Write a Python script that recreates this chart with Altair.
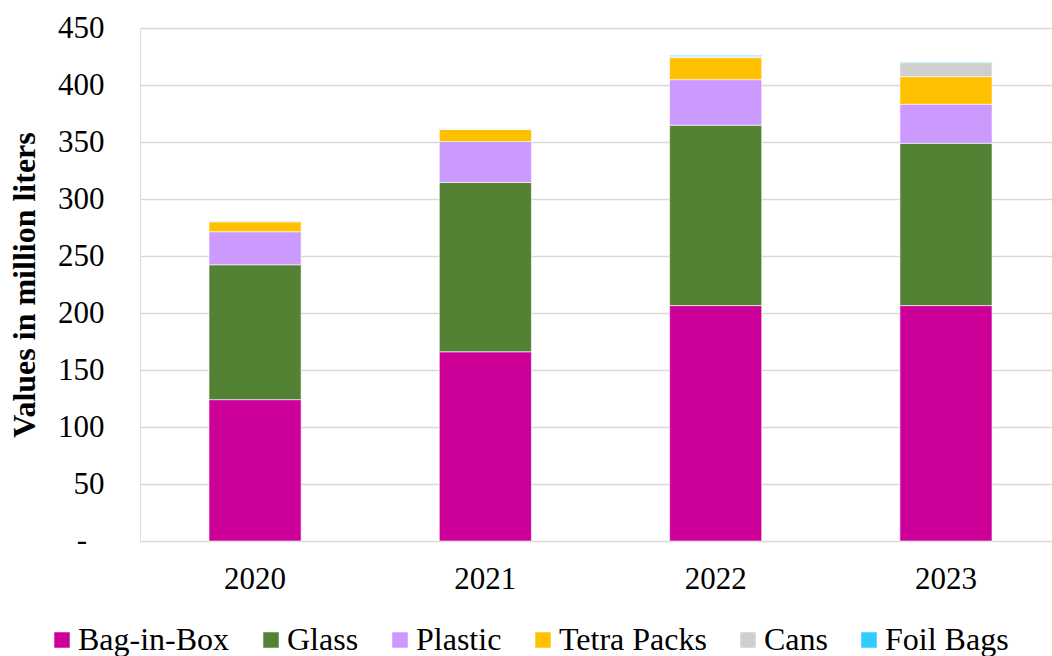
import altair as alt
import pandas as pd

# Packaging volumes (million liters) by year
years = ["2020", "2021", "2022", "2023"]
packaging = ["Bag-in-Box", "Glass", "Plastic", "Tetra Packs", "Cans", "Foil Bags"]
bag_in_box = [124.0, 166.0, 206.5, 206.5]
glass = [118.3, 148.5, 158.2, 142.4]
plastic = [29.0, 36.0, 40.0, 34.2]
tetra_packs = [8.7, 10.5, 19.3, 24.2]
cans = [0.3, 0.3, 1.2, 12.3]
foil_bags = [0.3, 0.3, 0.8, 0.5]

colors = ["#CC0099", "#548235", "#CC99FF", "#FFC000", "#D0CECE", "#33CCFF"]
y_ticks = [0, 50, 100, 150, 200, 250, 300, 350, 400, 450]
zero_label = "-"

series = [bag_in_box, glass, plastic, tetra_packs, cans, foil_bags]
rows = []
for k, (name, vals) in enumerate(zip(packaging, series)):
    for yr, v in zip(years, vals):
        rows.append({"Year": yr, "Packaging": name, "Value": v, "Order": k})
df = pd.DataFrame(rows)
zero_df = pd.DataFrame({"Value": [0], "Label": [zero_label]})

FONT = "Liberation Serif"

y_scale = alt.Scale(domain=[0, 450], nice=False)

bars = (
    alt.Chart(df)
    .mark_bar(stroke="white", strokeWidth=0.6)
    .encode(
        x=alt.X(
            "Year:N",
            sort=years,
            scale=alt.Scale(paddingInner=0.6, paddingOuter=0.28, align=0.535),
            axis=alt.Axis(
                title=None,
                labelAngle=0,
                labelFont=FONT,
                labelFontSize=31,
                labelColor="black",
                labelPadding=23,
                ticks=False,
                domain=False,
            ),
        ),
        y=alt.Y(
            "Value:Q",
            stack="zero",
            scale=y_scale,
            axis=alt.Axis(
                title="Values in million liters",
                titleFont=FONT,
                titleFontSize=32,
                titleFontWeight="bold",
                titleColor="black",
                titlePadding=16,
                values=y_ticks,
                # the zero label is drawn separately as a dash
                labelExpr="datum.value == 0 ? '' : datum.label",
                labelFont=FONT,
                labelFontSize=31,
                labelColor="black",
                labelPadding=36,
                ticks=False,
                domain=False,
                grid=True,
                gridColor="#d9d9d9",
                gridWidth=1.5,
            ),
        ),
        color=alt.Color(
            "Packaging:N",
            sort=packaging,
            scale=alt.Scale(domain=packaging, range=colors),
            legend=alt.Legend(
                title=None,
                orient="none",
                legendX=-94,
                legendY=596,
                direction="horizontal",
                columns=6,
                columnPadding=25,
                symbolType="square",
                symbolSize=240,
                symbolStrokeWidth=0,
                labelFont=FONT,
                labelFontSize=32,
                labelColor="black",
                labelOffset=0,
                padding=0,
            ),
        ),
        order=alt.Order("Order:Q", sort="ascending"),
    )
)

# dash standing in for zero on the value axis
zero_mark = (
    alt.Chart(zero_df)
    .mark_text(align="right", baseline="middle", font=FONT, fontSize=31, color="black")
    .encode(y=alt.Y("Value:Q", scale=y_scale), x=alt.value(-53), text="Label:N")
)

chart = (
    alt.layer(bars, zero_mark)
    .properties(
        width=912,
        height=513,
        autosize=alt.AutoSizeParams(type="none"),
        padding={"left": 140, "top": 28, "right": 0, "bottom": 115},
    )
    .configure_view(stroke=None)
    .configure(background="white")
)

chart.save("out.html", embed_options={"renderer": "svg", "actions": False})
